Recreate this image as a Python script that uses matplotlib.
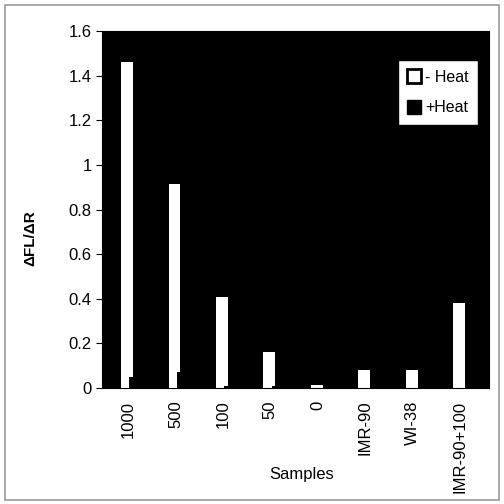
import matplotlib
matplotlib.use("Agg")
import matplotlib.pyplot as plt
from matplotlib.patches import Rectangle
from matplotlib.lines import Line2D

plt.rcParams['font.family'] = ['Liberation Sans', 'DejaVu Sans']

# Dados
samples = ["1000", "500", "100", "50", "0", "IMR-90", "WI-38", "IMR-90+100"]
minus_heat = [1.46, 0.915, 0.41, 0.16, 0.015, 0.08, 0.08, 0.38]
plus_heat = [0.05, 0.07, 0.01, 0.01, 0.0, 0.0, 0.0, 0.0]
yticks = [0, 0.2, 0.4, 0.6, 0.8, 1, 1.2, 1.4, 1.6]
ytick_labels = ["0", "0.2", "0.4", "0.6", "0.8", "1", "1.2", "1.4", "1.6"]

fig = plt.figure(figsize=(5.04, 5.04), dpi=100)
ax = fig.add_axes([102/504, 1 - 388/504, 387/504, 357/504])
ax.set_facecolor("black")

x = list(range(len(samples)))
w = 0.25
ax.bar([i - 0.02 for i in x], minus_heat, width=w, color="white", zorder=2)
ax.bar([i + 0.15 for i in x], plus_heat, width=w, color="black", zorder=3)

ax.set_xlim(-0.55, 7.61)
ax.set_ylim(0, 1.6)
ax.set_yticks(yticks)
ax.set_yticklabels(ytick_labels, fontsize=12)
ax.set_xticks(x)
ax.set_xticklabels(samples, rotation=90, fontsize=12)
ax.tick_params(axis="x", length=0, pad=9)
ax.tick_params(axis="y", length=4, direction="out")

handles = [Line2D([], [], marker="s", linestyle="none", markersize=10,
                  markerfacecolor="white", markeredgecolor="black", markeredgewidth=2),
           Line2D([], [], marker="s", linestyle="none", markersize=10,
                  markerfacecolor="black", markeredgecolor="black")]
leg = ax.legend(handles, ["- Heat", "+Heat"], loc="upper right",
                bbox_to_anchor=(0.972, 0.919), borderaxespad=0, fontsize=11.5,
                frameon=True, fancybox=False, edgecolor="black", framealpha=1,
                handlelength=0.8, handletextpad=0.3, borderpad=0.6, labelspacing=1.0)
leg.get_frame().set_facecolor("white")

fig.text(30/504, 1 - 238/504, "ΔFL/ΔR", rotation=90, ha="center", va="center",
         fontsize=11, fontweight="bold")
fig.text(302/504, 1 - 475/504, "Samples", ha="center", va="center", fontsize=12)

fig.patches.append(Rectangle((5/504, 4/504), 494/504, 495/504, transform=fig.transFigure,
                             fill=False, edgecolor="#999999", linewidth=1.2))

fig.savefig("out.png", dpi=100)
